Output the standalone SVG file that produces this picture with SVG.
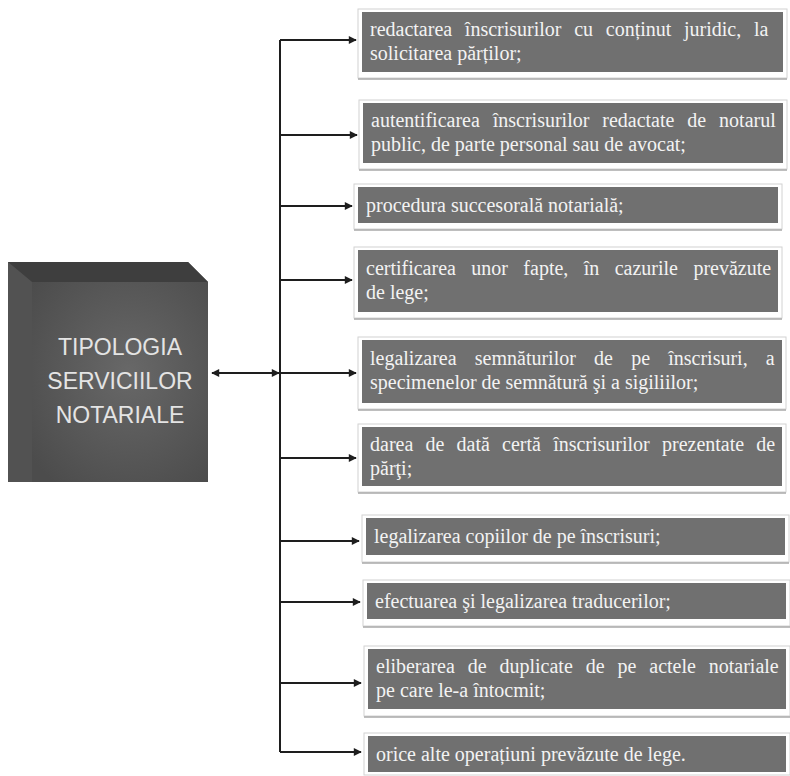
<svg xmlns="http://www.w3.org/2000/svg" width="790" height="776" viewBox="0 0 790 776">
  <defs>
    <style>
      .item rect.box { fill: #707070; }
      .item rect.frame { fill: none; stroke: #d2d2d2; stroke-width: 1; }
      .item line.under { stroke: #a8a8a8; stroke-width: 1.5; }
      .item text { font-family: "Liberation Serif", "Times New Roman", serif; font-size: 20px; fill: #f3f3f3; }
      .title { font-family: "Liberation Sans", Arial, sans-serif; font-size: 23px; fill: #e4e4e4; text-anchor: middle; }
      .conn line { stroke: #1e1e1e; stroke-width: 2; fill: none; }
    </style>
    <marker id="arrow" viewBox="0 0 10 10" refX="9" refY="5" markerWidth="9" markerHeight="8" markerUnits="userSpaceOnUse" orient="auto">
      <path d="M0,0 L10,5 L0,10 Z" fill="#1e1e1e"/>
    </marker>
    <marker id="arrowStart" viewBox="0 0 10 10" refX="1" refY="5" markerWidth="9" markerHeight="8" markerUnits="userSpaceOnUse" orient="auto">
      <path d="M10,0 L0,5 L10,10 Z" fill="#1e1e1e"/>
    </marker>
    <radialGradient id="front" cx="0.55" cy="0.45" r="0.7">
      <stop offset="0" stop-color="#686868"/>
      <stop offset="1" stop-color="#4c4c4c"/>
    </radialGradient>
  </defs>

  <rect width="790" height="776" fill="#ffffff"/>

  <!-- central block with bevelled top and left faces -->
  <g id="tipologia">
    <polygon points="8,262 188,262 208,282 208,482 8,482" fill="#474747"/>
    <polygon points="8,262 188,262 208,282 32,282" fill="#3e3e3e"/>
    <polygon points="8,262 32,282 32,482 8,482" fill="#525252"/>
    <rect x="32" y="282" width="176" height="200" fill="url(#front)"/>
    <text class="title" x="120" y="355">TIPOLOGIA</text>
    <text class="title" x="120" y="389">SERVICIILOR</text>
    <text class="title" x="120" y="423">NOTARIALE</text>
  </g>

  <!-- connectors -->
  <g class="conn" id="connectors">
    <line x1="212" y1="373" x2="279" y2="373" marker-start="url(#arrowStart)" marker-end="url(#arrow)"/>
    <line x1="280" y1="40" x2="280" y2="752"/>
    <line x1="280" y1="40" x2="356" y2="40" marker-end="url(#arrow)"/>
    <line x1="280" y1="135" x2="357" y2="135" marker-end="url(#arrow)"/>
    <line x1="280" y1="206" x2="352" y2="206" marker-end="url(#arrow)"/>
    <line x1="280" y1="280" x2="352" y2="280" marker-end="url(#arrow)"/>
    <line x1="280" y1="373" x2="356" y2="373" marker-end="url(#arrow)"/>
    <line x1="280" y1="458" x2="356" y2="458" marker-end="url(#arrow)"/>
    <line x1="280" y1="541" x2="359" y2="541" marker-end="url(#arrow)"/>
    <line x1="280" y1="602" x2="360" y2="602" marker-end="url(#arrow)"/>
    <line x1="280" y1="683" x2="361" y2="683" marker-end="url(#arrow)"/>
    <line x1="280" y1="752" x2="361" y2="752" marker-end="url(#arrow)"/>
  </g>

  <!-- service boxes; first lines of two-line boxes are justified -->
  <g id="s1" class="item">
    <rect class="frame" x="358" y="9" width="429" height="69"/>
    <line class="under" x1="358" y1="79" x2="787" y2="79"/>
    <rect class="box" x="362" y="12" width="421" height="60"/>
    <text x="370" y="36" word-spacing="7.7">redactarea înscrisurilor cu conținut juridic, la</text>
    <text x="370" y="60">solicitarea părților;</text>
  </g>

  <g id="s2" class="item">
    <rect class="frame" x="359" y="100" width="428" height="69"/>
    <line class="under" x1="359" y1="170" x2="787" y2="170"/>
    <rect class="box" x="363" y="103" width="420" height="60"/>
    <text x="371" y="127" word-spacing="7.9">autentificarea înscrisurilor redactate de notarul</text>
    <text x="371" y="151">public, de parte personal sau de avocat;</text>
  </g>

  <g id="s3" class="item">
    <rect class="frame" x="354" y="184" width="428" height="45"/>
    <line class="under" x1="354" y1="230" x2="782" y2="230"/>
    <rect class="box" x="358" y="187" width="420" height="36"/>
    <text x="366" y="212">procedura succesorală notarială;</text>
  </g>

  <g id="s4" class="item">
    <rect class="frame" x="354" y="247" width="428" height="71"/>
    <line class="under" x1="354" y1="319" x2="782" y2="319"/>
    <rect class="box" x="358" y="250" width="420" height="62"/>
    <text x="366" y="275" word-spacing="10.4">certificarea unor fapte, în cazurile prevăzute</text>
    <text x="366" y="299">de lege;</text>
  </g>

  <g id="s5" class="item">
    <rect class="frame" x="358" y="337" width="428" height="72"/>
    <line class="under" x1="358" y1="410" x2="786" y2="410"/>
    <rect class="box" x="362" y="340" width="420" height="63"/>
    <text x="370" y="365" word-spacing="13.2">legalizarea semnăturilor de pe înscrisuri, a</text>
    <text x="370" y="389">specimenelor de semnătură şi a sigiliilor;</text>
  </g>

  <g id="s6" class="item">
    <rect class="frame" x="358" y="424" width="428" height="68"/>
    <line class="under" x1="358" y1="493" x2="786" y2="493"/>
    <rect class="box" x="362" y="427" width="420" height="59"/>
    <text x="370" y="451" word-spacing="7.2">darea de dată certă înscrisurilor prezentate de</text>
    <text x="370" y="475">părţi;</text>
  </g>

  <g id="s7" class="item">
    <rect class="frame" x="362" y="515" width="427" height="47"/>
    <line class="under" x1="362" y1="563" x2="789" y2="563"/>
    <rect class="box" x="366" y="518" width="419" height="37"/>
    <text x="374" y="543">legalizarea copiilor de pe înscrisuri;</text>
  </g>

  <g id="s8" class="item">
    <rect class="frame" x="363" y="580" width="427" height="46"/>
    <line class="under" x1="363" y1="627" x2="790" y2="627"/>
    <rect class="box" x="367" y="583" width="419" height="36"/>
    <text x="375" y="608">efectuarea şi legalizarea traducerilor;</text>
  </g>

  <g id="s9" class="item">
    <rect class="frame" x="364" y="646" width="426" height="70"/>
    <line class="under" x1="364" y1="717" x2="790" y2="717"/>
    <rect class="box" x="368" y="649" width="418" height="60"/>
    <text x="376" y="673" word-spacing="7.9">eliberarea de duplicate de pe actele notariale</text>
    <text x="376" y="697">pe care le-a întocmit;</text>
  </g>

  <g id="s10" class="item">
    <rect class="frame" x="364" y="733" width="426" height="42"/>
    <rect class="box" x="368" y="736" width="418" height="36"/>
    <text x="376" y="761">orice alte operațiuni prevăzute de lege.</text>
  </g>
</svg>
